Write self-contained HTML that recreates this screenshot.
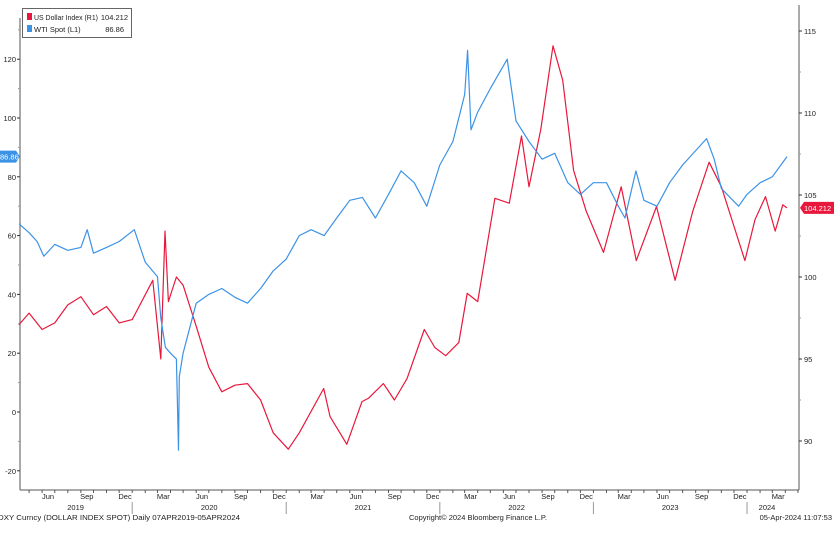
<!DOCTYPE html>
<html><head><meta charset="utf-8">
<style>
body{margin:0;background:#fff;font-family:"Liberation Sans",sans-serif;}
svg text{font-family:"Liberation Sans",sans-serif;font-size:7.5px;fill:#222;}
</style></head>
<body>
<svg id="chart" width="834" height="535" viewBox="0 0 834 535"></svg>
<script>
const wtiDates=["2019-04-07","2019-05-01","2019-05-20","2019-06-05","2019-07-01","2019-08-01","2019-09-01","2019-09-16","2019-10-01","2019-11-01","2019-12-01","2020-01-06","2020-02-01","2020-03-01","2020-03-09","2020-03-20","2020-04-01","2020-04-15","2020-04-20","2020-04-22","2020-05-01","2020-06-01","2020-07-01","2020-08-01","2020-09-01","2020-10-01","2020-11-01","2020-12-01","2021-01-01","2021-02-01","2021-03-01","2021-04-01","2021-05-01","2021-06-01","2021-07-01","2021-08-01","2021-09-01","2021-10-01","2021-11-01","2021-12-01","2022-01-01","2022-02-01","2022-03-01","2022-03-08","2022-03-16","2022-04-01","2022-05-01","2022-06-10","2022-07-01","2022-08-01","2022-09-01","2022-10-01","2022-11-01","2022-12-01","2023-01-01","2023-02-01","2023-03-01","2023-03-17","2023-04-12","2023-05-01","2023-06-01","2023-07-01","2023-08-01","2023-09-27","2023-10-15","2023-11-01","2023-12-12","2024-01-01","2024-02-01","2024-03-01","2024-04-05"];
const wtiValues=[64,61,58,53,57,55,56,62,54,56,58,62,51,46,32,22,20,18,-13,12,20,37,40,42,39,37,42,48,52,60,62,60,66,72,73,66,74,82,78,70,84,92,108,123,96,102,110,120,99,92,86,88,78,74,78,78,70,66,82,72,70,78,84,93,86,76,70,74,78,80,86.86];
const dxyDates=["2019-04-07","2019-05-01","2019-06-01","2019-07-01","2019-08-01","2019-09-01","2019-10-01","2019-11-01","2019-12-01","2020-01-01","2020-02-19","2020-03-09","2020-03-19","2020-03-27","2020-04-15","2020-05-01","2020-06-01","2020-07-01","2020-08-01","2020-09-01","2020-10-01","2020-11-01","2020-12-01","2021-01-06","2021-02-01","2021-03-31","2021-04-15","2021-05-25","2021-06-30","2021-07-15","2021-08-20","2021-09-15","2021-10-15","2021-11-25","2021-12-20","2022-01-15","2022-02-15","2022-03-07","2022-04-01","2022-05-12","2022-06-15","2022-07-14","2022-08-01","2022-08-29","2022-09-27","2022-10-20","2022-11-15","2022-12-15","2023-01-25","2023-03-08","2023-04-13","2023-05-31","2023-07-14","2023-08-25","2023-10-03","2023-11-01","2023-12-27","2024-01-20","2024-02-14","2024-03-08","2024-03-26","2024-04-05"];
const dxyValues=[97.1,97.8,96.8,97.2,98.3,98.8,97.7,98.2,97.2,97.4,99.8,95.0,102.8,98.5,100.0,99.5,97.0,94.5,93.0,93.4,93.5,92.5,90.5,89.5,90.5,93.2,91.5,89.8,92.4,92.6,93.5,92.5,93.8,96.8,95.7,95.2,96.0,99.0,98.5,104.8,104.5,108.6,105.5,109.0,114.1,112.0,106.5,104.0,101.5,105.5,101.0,104.3,99.8,104.0,107.0,105.5,101.0,103.5,104.9,102.8,104.4,104.212];
const leftTicks=[-20,0,20,40,60,80,100,120];
const rightTicks=[90,95,100,105,110,115];
const monthTicks=["Jun","Sep","Dec","Mar"];
const yearLabels=["2019","2020","2021","2022","2023","2024"];

const svg=document.getElementById('chart');
const NS='http://www.w3.org/2000/svg';
const X0=20,X1=799,Y1=490,XS=19,XE=787;
const t0=Date.UTC(2019,3,7),t1=Date.UTC(2024,3,5);
function tx(d){const p=d.split('-').map(Number);const t=Date.UTC(p[0],p[1]-1,p[2]||1);return XS+(t-t0)/(t1-t0)*(XE-XS);}
function yl(v){return 412-v*2.94;}
function yr(v){return 195-(v-105)*16.4;}
function el(tag,attrs,txt){const e=document.createElementNS(NS,tag);for(const k in attrs)e.setAttribute(k,attrs[k]);if(txt!==undefined)e.textContent=txt;svg.appendChild(e);return e;}

let a;
a=el('line',{x1:X0,y1:18,x2:X0,y2:Y1,stroke:'#555','stroke-width':1});

a=el('line',{x1:X1,y1:5,x2:X1,y2:Y1,stroke:'#555','stroke-width':1});

a=el('line',{x1:X0,y1:Y1,x2:X1,y2:Y1,stroke:'#555','stroke-width':1});


leftTicks.forEach(v=>{const y=yl(v);
 el('line',{x1:X0-3,y1:y,x2:X0,y2:y,stroke:'#333'});
 const t=el('text',{x:X0-4,y:y+3,'text-anchor':'end'},String(v));
 
});
[130,110,90,70,50,30,10,-10].forEach(v=>{const y=yl(v);if(y>18)el('line',{x1:X0-2,y1:y,x2:X0,y2:y,stroke:'#999'});});
rightTicks.forEach(v=>{const y=yr(v);
 el('line',{x1:X1,y1:y,x2:X1+3,y2:y,stroke:'#333'});
 const t=el('text',{x:X1+5,y:y+3},String(v));
 
});
[92.5,97.5,102.5,107.5,112.5].forEach(v=>{const y=yr(v);el('line',{x1:X1,y1:y,x2:X1+2,y2:y,stroke:'#999'});});

for(let yr_=2019;yr_<=2024;yr_++){for(let m=1;m<=12;m++){
 const d=yr_+'-'+String(m).padStart(2,'0')+'-01';const x=tx(d);if(x<X0||x>X1)continue;
 el('line',{x1:x,y1:Y1,x2:x,y2:Y1+3,stroke:'#555'});
 const idx=[6,9,12,3].indexOf(m);
 if(idx>=0){const xm=tx(yr_+'-'+String(m).padStart(2,'0')+'-15');
  const t=el('text',{x:xm,y:Y1+9,'text-anchor':'middle'},monthTicks[idx]);
  }
 if(m===1&&yr_>2019){el('line',{x1:x,y1:Y1+12,x2:x,y2:Y1+24,stroke:'#999'});}
}}
yearLabels.forEach((y,i)=>{let a_=i===0?'2019-04-07':y+'-01-01',b_=i===5?'2024-04-05':(+y+1)+'-01-01';
 const t=el('text',{x:(tx(a_)+tx(b_))/2,y:Y1+20,'text-anchor':'middle'},y);
 });

function line(dates,vals,fy,color,name){
 const pts=dates.map((d,i)=>tx(d).toFixed(1)+','+fy(vals[i]).toFixed(1)).join(' ');
 const p=el('polyline',{points:pts,fill:'none',stroke:color,'stroke-width':1.2,'stroke-linejoin':'round'});
 
}
line(dxyDates,dxyValues,yr,'#e8183c','dxy-line');
line(wtiDates,wtiValues,yl,'#3c93e6','wti-line');

const lw=wtiValues[wtiValues.length-1],ld=dxyValues[dxyValues.length-1];
let g=el('path',{d:`M0 ${yl(lw)-6}H16L20 ${yl(lw)}L16 ${yl(lw)+6}H0Z`,fill:'#3c93e6'});

let tt=el('text',{x:0,y:yl(lw)+3,style:'fill:#fff'},String(lw));

g=el('path',{d:`M800 ${yr(ld)}L804 ${yr(ld)-6}H834V${yr(ld)+6}H804Z`,fill:'#e8183c'});

tt=el('text',{x:804,y:yr(ld)+3,style:'fill:#fff'},String(ld));


g=el('rect',{x:22.5,y:8.5,width:109,height:29,fill:'#fff',stroke:'#666'});

el('rect',{x:27,y:13,width:5,height:7,fill:'#e8183c'});
el('rect',{x:27,y:25,width:5,height:7,fill:'#3c93e6'});
tt=el('text',{x:34,y:20,textLength:64,lengthAdjust:'spacingAndGlyphs'},'US Dollar Index (R1)');
el('text',{x:128,y:20,'text-anchor':'end'},'104.212');
tt=el('text',{x:34,y:32},'WTI Spot (L1)');
el('text',{x:124,y:32,'text-anchor':'end'},'86.86');

tt=el('text',{x:-2,y:520,textLength:242,lengthAdjust:'spacingAndGlyphs'},'DXY Curncy (DOLLAR INDEX SPOT)  Daily 07APR2019-05APR2024');
tt=el('text',{x:478,y:520,'text-anchor':'middle'},'Copyright© 2024 Bloomberg Finance L.P.');
tt=el('text',{x:832,y:520,'text-anchor':'end'},'05-Apr-2024 11:07:53');
</script>
</body></html>
